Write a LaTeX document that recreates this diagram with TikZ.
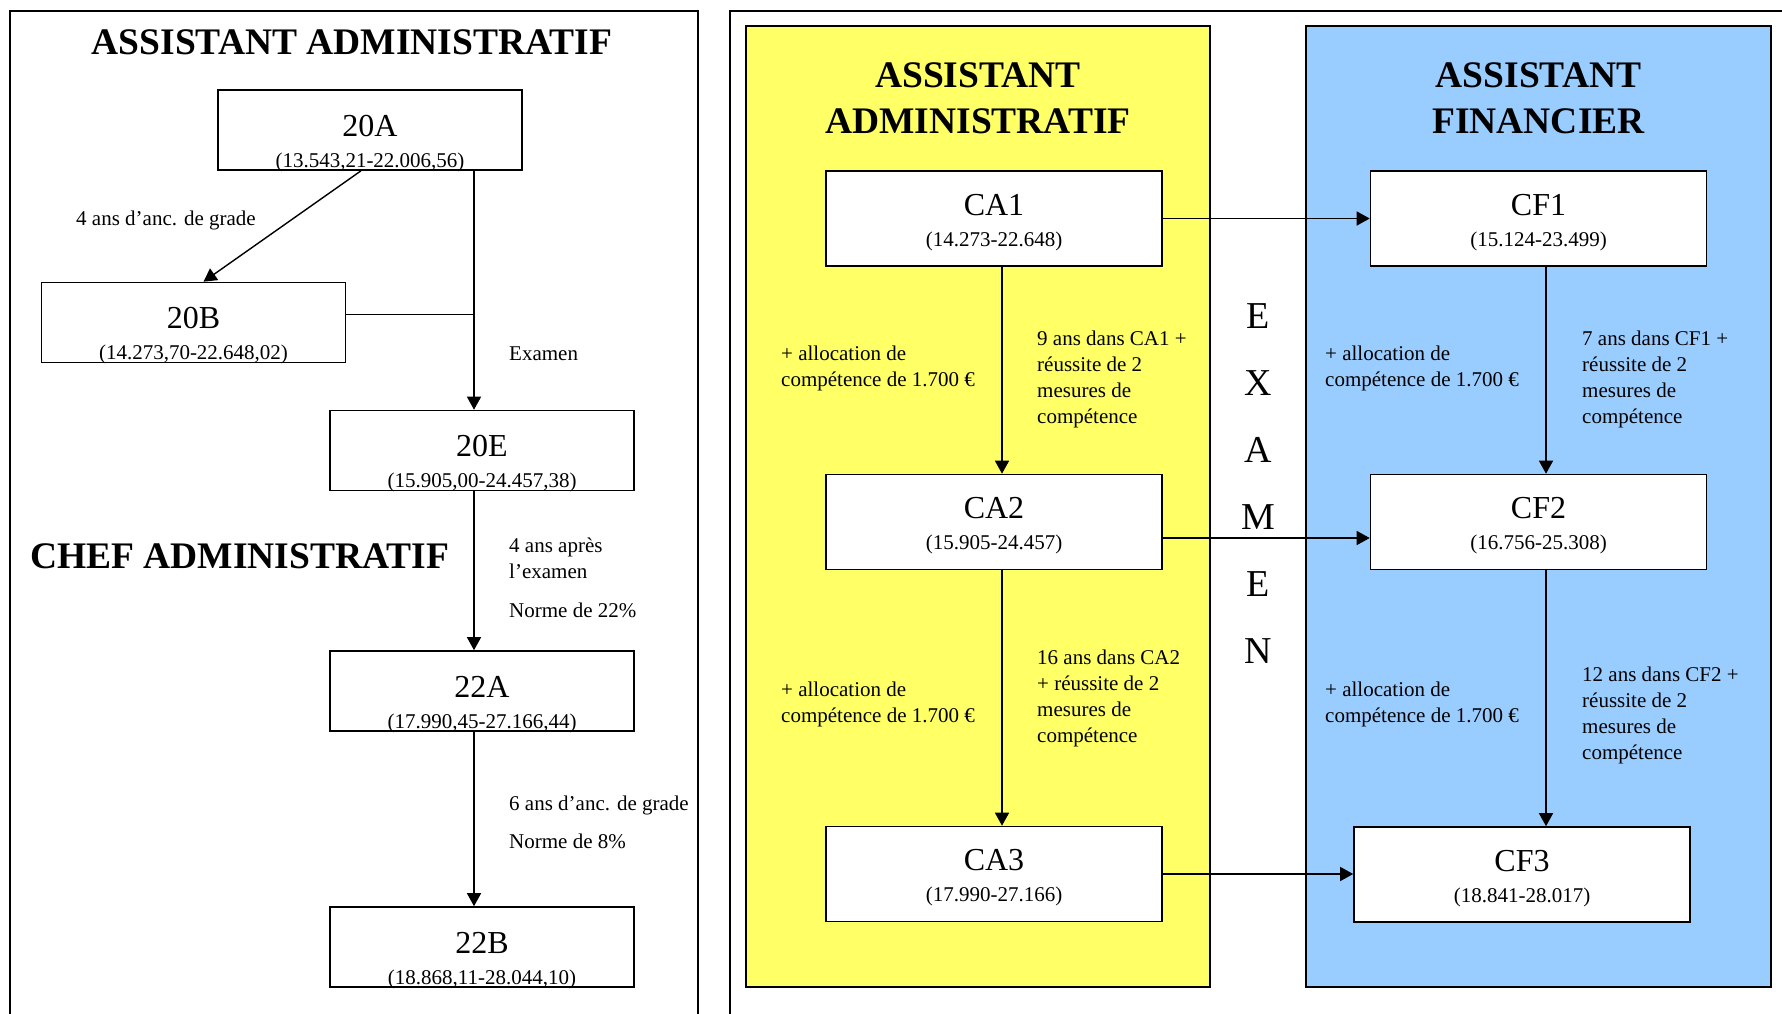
\documentclass[tikz,border=0pt]{standalone}
\usepackage{fontspec}
\setmainfont{Liberation Serif}
\usepackage{tikz}
\usetikzlibrary{arrows.meta}
\definecolor{paleyellow}{HTML}{FFFF66}
\definecolor{paleblue}{HTML}{99CCFF}

\begin{document}
\begin{tikzpicture}[x=1pt,y=-1pt,
  panelframe/.style={line width=1.8pt},
  lbox/.style={draw,fill=white,line width=1.6pt,minimum width=304pt,minimum height=80pt,inner sep=0pt},
  rbox/.style={draw,fill=white,line width=1.6pt,minimum width=336pt,minimum height=95pt,inner sep=0pt},
  grade/.style={font=\fontsize{32}{36}\selectfont,anchor=base,inner sep=0pt},
  salaire/.style={font=\fontsize{21}{26}\selectfont,anchor=base,inner sep=0pt},
  note/.style={font=\fontsize{21}{26}\selectfont,anchor=base west,align=left,inner sep=0pt},
  head/.style={font=\bfseries\fontsize{37.5}{45}\selectfont,anchor=base,align=center,inner sep=0pt},
  examletter/.style={font=\fontsize{38}{40}\selectfont,anchor=base,inner sep=0pt},
  flow/.style={line width=1.4pt,-{Triangle[length=13pt,width=14pt]}}]

\useasboundingbox (0,0) rectangle (1782,1014);

% left panel
\draw[panelframe] (10,1014) -- (10,11) -- (698,11) -- (698,1014);
\node[head] (t-left) at (352,55) {ASSISTANT ADMINISTRATIF};
\node[head,anchor=base west] (t-chef) at (30,568) {CHEF ADMINISTRATIF};

\foreach \n/\x/\y/\g/\r in {a20/370/130/20A/{(13.543,21-22.006,56)},
    b20/193.5/322.5/20B/{(14.273,70-22.648,02)},
    e20/482/450.5/20E/{(15.905,00-24.457,38)},
    a22/482/691/22A/{(17.990,45-27.166,44)},
    b22/482/947/22B/{(18.868,11-28.044,10)}}{
  \node[lbox] (\n) at (\x,\y) {};
  \node[grade] (\n-g) at ([yshift=-47pt]\n.north) {\g};
  \node[salaire] (\n-r) at ([yshift=-78pt]\n.north) {\r};
}

\coordinate (exam) at ([xshift=104pt]a20.south);
\coordinate (join) at ([yshift=8pt]b20.east);
\draw[flow] ([xshift=-9pt]a20.south) -- ([xshift=10pt]b20.north);
\draw[flow] (exam) -- (exam |- e20.north);
\draw[line width=1.4pt] (join) -- (join -| exam);
\draw[flow] ([xshift=-8pt]e20.south) -- ([xshift=-8pt]a22.north);
\draw[flow] ([xshift=-8pt]a22.south) -- ([xshift=-8pt]b22.north);

% base = last line
\node[note] (n-anc4) at (76,225) {4 ans d’anc. de grade};
\node[note] (n-exam) at (509,360) {Examen};
\node[note] (n-apres) at (509,578) {4 ans après\\l’examen};
\node[note] (n-22) at (509,617) {Norme de 22\%};
\node[note] (n-anc6) at (509,810) {6 ans d’anc. de grade};
\node[note] (n-8) at (509,848) {Norme de 8\%};

% right panel
\draw[panelframe] (730,1014) -- (730,11) -- (1782,11);
\draw[panelframe,fill=paleyellow] (746,26) rectangle (1210,987);
\draw[panelframe,fill=paleblue] (1306,26) rectangle (1771,987);
\node[head] (t-ca) at (978,133) {ASSISTANT\\ADMINISTRATIF};
\node[head] (t-cf) at (1538.5,133) {ASSISTANT\\FINANCIER};

\foreach \n/\x/\y/\g/\r in {ca1/994/218.5/CA1/{(14.273-22.648)},
    ca2/994/522/CA2/{(15.905-24.457)},
    ca3/994/874/CA3/{(17.990-27.166)},
    cf1/1538.5/218.5/CF1/{(15.124-23.499)},
    cf2/1538.5/522/CF2/{(16.756-25.308)},
    cf3/1522/874.5/CF3/{(18.841-28.017)}}{
  \node[rbox] (\n) at (\x,\y) {};
  \node[grade] (\n-g) at ([yshift=-45pt]\n.north) {\g};
  \node[salaire] (\n-r) at ([yshift=-76pt]\n.north) {\r};
}

\draw[flow] (ca1) -- (cf1);
\draw[flow] ([yshift=-16pt]ca2.east) -- ([yshift=-16pt]cf2.west);
\draw[flow] (ca3.east) -- (ca3.east -| cf3.west);
\draw[flow] ([xshift=8pt]ca1.south) -- ([xshift=8pt]ca2.north);
\draw[flow] ([xshift=8pt]ca2.south) -- ([xshift=8pt]ca3.north);
\draw[flow] ([xshift=7.5pt]cf1.south) -- ([xshift=7.5pt]cf2.north);
\draw[flow] ([xshift=7.5pt]cf2.south) -- ([xshift=7.5pt]cf2.south |- cf3.north);

\foreach \x/\s in {781/a,1325/f}{
  \node[note] (alloc-\s1) at (\x,386) {+ allocation de\\compétence de 1.700 €};
  \node[note] (alloc-\s2) at (\x,722) {+ allocation de\\compétence de 1.700 €};
}
\node[note] (c-ca1) at (1037,423) {9 ans dans CA1 +\\réussite de 2\\mesures de\\compétence};
\node[note] (c-ca2) at (1037,742) {16 ans dans CA2\\+ réussite de 2\\mesures de\\compétence};
\node[note] (c-cf1) at (1582,423) {7 ans dans CF1 +\\réussite de 2\\mesures de\\compétence};
\node[note] (c-cf2) at (1582,759) {12 ans dans CF2 +\\réussite de 2\\mesures de\\compétence};

\foreach \l [count=\i] in {E,X,A,M,E,N}
  \node[examletter] (ex-\i) at (1258,{261+67*\i}) {\l};
\end{tikzpicture}
\end{document}
